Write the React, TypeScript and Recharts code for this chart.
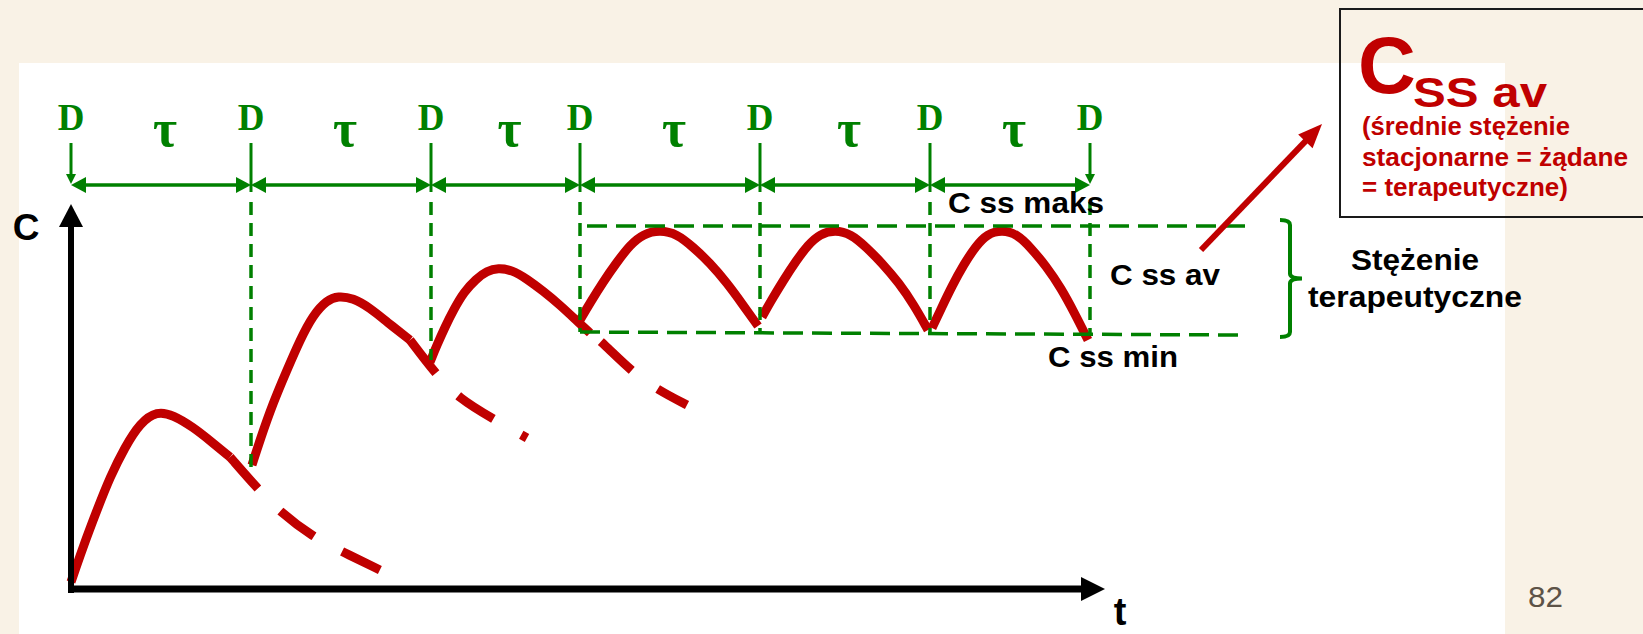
import React from 'react';
import { ComposedChart, Line, XAxis, YAxis, ReferenceLine, ReferenceDot } from 'recharts';

const RED = '#C00000';
const GREEN = '#008000';
const SANS = '"Liberation Sans", Arial, sans-serif';
const SERIF = '"Liberation Serif", "Times New Roman", serif';

type P = [number, number];

// Dosing times (D) on the time axis
const doseTimes = [0, 1.8, 3.6, 5.09, 6.89, 8.59, 10.19];
// Concentration where each dashed dose guide meets the curve (doses 2..7)
const guideBottoms = [1.22, 2.29, 2.57, 2.57, 2.55, 2.54];
const doseLabel = 'D';
const intervalLabel = 'τ';

// Steady-state band
const cssMax = 3.63;
const cssMinStart = 2.57;
const cssMinEnd = 2.54;
const bandStart = 5.09;
const bandEnd = 11.72;

// Level of the dosing-interval arrows and of the D / τ labels
const intervalLevel = 4.04;
const doseLabelLevel = 4.59;
const tauLabelLevel = 4.43;

// Concentration after each dose (solid) and the elimination without a further dose (dashed)
const dose1: P[] = [[0.0, 0.07], [0.12, 0.42], [0.26, 0.79], [0.39, 1.12], [0.54, 1.42], [0.69, 1.66], [0.86, 1.78], [1.02, 1.74], [1.22, 1.62], [1.42, 1.46], [1.59, 1.32]];
const washout1: P[] = [[1.59, 1.32], [1.86, 1.01], [2.09, 0.77], [2.42, 0.52], [2.72, 0.37], [3.09, 0.19]];
const dose2: P[] = [[1.81, 1.24], [1.89, 1.49], [2.02, 1.86], [2.16, 2.19], [2.29, 2.49], [2.42, 2.74], [2.56, 2.89], [2.67, 2.93], [2.82, 2.91], [2.99, 2.81], [3.16, 2.67], [3.39, 2.49]];
const washout2: P[] = [[3.39, 2.49], [3.64, 2.16], [3.87, 1.91], [4.24, 1.69], [4.56, 1.51]];
const dose3: P[] = [[3.59, 2.27], [3.66, 2.44], [3.74, 2.62], [3.83, 2.8], [3.93, 2.97], [4.05, 3.1], [4.16, 3.18], [4.27, 3.21], [4.41, 3.19], [4.56, 3.1], [4.72, 2.98], [4.89, 2.84], [5.07, 2.67], [5.19, 2.56]];
const washout3: P[] = [[5.19, 2.56], [5.31, 2.47], [5.61, 2.17], [5.87, 1.99], [6.16, 1.84]];
const dose4: P[] = [[5.09, 2.69], [5.19, 2.86], [5.32, 3.07], [5.46, 3.27], [5.59, 3.44], [5.72, 3.55], [5.89, 3.59], [6.06, 3.55], [6.22, 3.42], [6.39, 3.26], [6.56, 3.06], [6.72, 2.84], [6.87, 2.63]];
const dose5: P[] = [[6.91, 2.72], [7.0, 2.88], [7.12, 3.08], [7.25, 3.28], [7.37, 3.44], [7.49, 3.55], [7.64, 3.59], [7.8, 3.55], [7.95, 3.42], [8.11, 3.26], [8.28, 3.06], [8.43, 2.84], [8.57, 2.59]];
const dose6: P[] = [[8.61, 2.61], [8.7, 2.8], [8.81, 3.03], [8.93, 3.25], [9.05, 3.43], [9.16, 3.55], [9.31, 3.59], [9.46, 3.55], [9.6, 3.41], [9.75, 3.23], [9.9, 3.01], [10.04, 2.75], [10.17, 2.49]];

const solidCurves = [dose1, dose2, dose3, dose4, dose5, dose6];
const washouts = [washout1, washout2, washout3];
const washoutOffsets = [0, 0, 60];

const toRows = (pts: P[]) => pts.map(([t, c]) => ({ t, c }));

type ArrowOpts = { color: string; width: number; head: number; half: number; atStart?: boolean; atEnd?: boolean };

const arrowShape = (o: ArrowOpts) => (p: any) => {
  const { x1, y1, x2, y2 } = p;
  const len = Math.hypot(x2 - x1, y2 - y1) || 1;
  const ux = (x2 - x1) / len;
  const uy = (y2 - y1) / len;
  const tri = (tx: number, ty: number, dx: number, dy: number) => {
    const bx = tx - dx * o.head;
    const by = ty - dy * o.head;
    return `${tx},${ty} ${bx - dy * o.half},${by + dx * o.half} ${bx + dy * o.half},${by - dx * o.half}`;
  };
  const sx = o.atStart ? x1 + ux * o.head * 0.7 : x1;
  const sy = o.atStart ? y1 + uy * o.head * 0.7 : y1;
  const ex = o.atEnd ? x2 - ux * o.head * 0.7 : x2;
  const ey = o.atEnd ? y2 - uy * o.head * 0.7 : y2;
  return (
    <g>
      <line x1={sx} y1={sy} x2={ex} y2={ey} stroke={o.color} strokeWidth={o.width} />
      {o.atStart && <polygon points={tri(x1, y1, -ux, -uy)} fill={o.color} />}
      {o.atEnd && <polygon points={tri(x2, y2, ux, uy)} fill={o.color} />}
    </g>
  );
};

const braceShape = (p: any) => {
  const { x1, y1, y2 } = p;
  const ym = (y1 + y2) / 2;
  const r = 5;
  const d = `M${x1 - 10},${y1} Q${x1},${y1} ${x1},${y1 + r} L${x1},${ym - r} Q${x1},${ym} ${x1 + 12},${ym} Q${x1},${ym} ${x1},${ym + r} L${x1},${y2 - r} Q${x1},${y2} ${x1 - 10},${y2}`;
  return <path d={d} stroke={GREEN} strokeWidth={4} fill="none" />;
};

type TextOpts = { size: number; fill: string; family: string; weight?: string | number; anchor?: 'start' | 'middle' | 'end'; length?: number };

const textShape = (text: string, s: TextOpts) => (p: any) => (
  <text
    x={p.cx}
    y={p.cy}
    fontSize={s.size}
    fill={s.fill}
    fontFamily={s.family}
    fontWeight={s.weight ?? 'bold'}
    textAnchor={s.anchor ?? 'start'}
    {...(s.length ? { textLength: s.length, lengthAdjust: 'spacingAndGlyphs' } : {})}
  >
    {text}
  </text>
);

type Note = { x: number; y: number; text: string; opts: TextOpts };

const notes: Note[] = [
  { x: -0.45, y: 3.49, text: 'C', opts: { size: 37, fill: '#000', family: SANS, anchor: 'middle' } },
  { x: 10.49, y: -0.36, text: 't', opts: { size: 38, fill: '#000', family: SANS, anchor: 'middle' } },
  { x: 14.57, y: -0.18, text: '82', opts: { size: 29, fill: '#5d5347', family: SANS, weight: 'normal', length: 35 } },
  { x: 8.77, y: 3.76, text: 'C ss maks', opts: { size: 29, fill: '#000', family: SANS, length: 156 } },
  { x: 10.39, y: 3.04, text: 'C ss av', opts: { size: 29, fill: '#000', family: SANS, length: 110 } },
  { x: 9.77, y: 2.22, text: 'C ss min', opts: { size: 29, fill: '#000', family: SANS, length: 130 } },
  { x: 12.8, y: 3.19, text: 'Stężenie', opts: { size: 29, fill: '#000', family: SANS, length: 128 } },
  { x: 12.37, y: 2.82, text: 'terapeutyczne', opts: { size: 29, fill: '#000', family: SANS, length: 214 } },
  { x: 12.87, y: 4.96, text: 'C', opts: { size: 80, fill: RED, family: SANS } },
  { x: 13.42, y: 4.82, text: 'SS av', opts: { size: 42, fill: RED, family: SANS, length: 134 } },
  { x: 12.91, y: 4.54, text: '(średnie stężenie', opts: { size: 25, fill: RED, family: SANS, length: 208 } },
  { x: 12.91, y: 4.23, text: 'stacjonarne = żądane', opts: { size: 25, fill: RED, family: SANS, length: 266 } },
  { x: 12.91, y: 3.93, text: '= terapeutyczne)', opts: { size: 25, fill: RED, family: SANS, length: 206 } },
];

export default function App() {
  const W = 1643;
  const H = 634;
  const intervals = doseTimes.slice(0, -1).map((t, i) => [t, doseTimes[i + 1]]);
  return (
    <div style={{ position: 'absolute', left: 0, top: 0, width: W, height: H, overflow: 'hidden', background: '#F9F2E6' }}>
      <div style={{ position: 'absolute', left: 19, top: 63, width: 1486, height: 571, background: '#FFFFFF' }} />
      <div style={{ position: 'absolute', left: 1339, top: 8, width: 330, height: 206, border: '2px solid #1a1a1a' }} />
      <div style={{ position: 'absolute', left: 0, top: 0 }}>
        <ComposedChart width={W} height={H} margin={{ top: 0, right: 0, bottom: 0, left: 0 }}>
          <XAxis type="number" dataKey="t" domain={[-0.71, 15.72]} allowDataOverflow hide />
          <YAxis type="number" dataKey="c" domain={[-0.45, 5.89]} allowDataOverflow hide />

          {solidCurves.map((pts, i) => (
            <Line key={`dose-${i}`} data={toRows(pts)} dataKey="c" type="basis" stroke={RED} strokeWidth={9} dot={false} activeDot={false} isAnimationActive={false} />
          ))}
          {washouts.map((pts, i) => (
            <Line key={`washout-${i}`} data={toRows(pts)} dataKey="c" type="basis" stroke={RED} strokeWidth={9} strokeDasharray="42 32" strokeDashoffset={washoutOffsets[i]} dot={false} activeDot={false} isAnimationActive={false} />
          ))}

          {/* axes with arrowheads */}
          <ReferenceLine segment={[{ x: -0.03, y: 0 }, { x: 10.34, y: 0 }]} ifOverflow="visible" shape={arrowShape({ color: '#000', width: 7, head: 24, half: 12, atEnd: true })} />
          <ReferenceLine segment={[{ x: 0, y: -0.04 }, { x: 0, y: 3.85 }]} ifOverflow="visible" shape={arrowShape({ color: '#000', width: 6, head: 23, half: 12, atEnd: true })} />

          {/* dosing intervals */}
          {intervals.map(([a, b], i) => (
            <ReferenceLine key={`tau-${i}`} segment={[{ x: a, y: intervalLevel }, { x: b, y: intervalLevel }]} ifOverflow="visible" shape={arrowShape({ color: GREEN, width: 3.5, head: 15, half: 8, atStart: true, atEnd: true })} />
          ))}
          {doseTimes.map((t, i) => {
            const edge = i === 0 || i === doseTimes.length - 1;
            return (
              <ReferenceLine key={`stub-${i}`} segment={[{ x: t, y: 4.46 }, { x: t, y: edge ? intervalLevel + 0.01 : 3.97 }]} ifOverflow="visible" shape={arrowShape({ color: GREEN, width: 3, head: 10, half: 5, atEnd: edge })} />
            );
          })}
          {doseTimes.slice(1).map((t, i) => (
            <ReferenceLine key={`guide-${i}`} segment={[{ x: t, y: 3.87 }, { x: t, y: guideBottoms[i] }]} ifOverflow="visible" stroke={GREEN} strokeWidth={3.5} strokeDasharray="13 8" />
          ))}

          {/* steady-state band */}
          <ReferenceLine segment={[{ x: bandStart + 0.07, y: cssMax }, { x: bandEnd + 0.02, y: cssMax }]} ifOverflow="visible" stroke={GREEN} strokeWidth={3.5} strokeDasharray="20 9" />
          <ReferenceLine segment={[{ x: bandStart, y: cssMinStart }, { x: bandEnd - 0.03, y: cssMinEnd }]} ifOverflow="visible" stroke={GREEN} strokeWidth={3.5} strokeDasharray="20 9" />
          <ReferenceLine segment={[{ x: 12.19, y: 3.69 }, { x: 12.19, y: 2.52 }]} ifOverflow="visible" shape={braceShape} />

          {/* pointer to the definition box */}
          <ReferenceLine segment={[{ x: 11.3, y: 3.39 }, { x: 12.51, y: 4.65 }]} ifOverflow="visible" shape={arrowShape({ color: RED, width: 6, head: 24, half: 10, atEnd: true })} />

          {doseTimes.map((t, i) => (
            <ReferenceDot key={`D-${i}`} x={t} y={doseLabelLevel} r={0} ifOverflow="visible" shape={textShape(doseLabel, { size: 37, fill: GREEN, family: SERIF, anchor: 'middle' })} />
          ))}
          {intervals.map(([a, b], i) => (
            <ReferenceDot key={`tl-${i}`} x={(a + b) / 2 + 0.04} y={tauLabelLevel} r={0} ifOverflow="visible" shape={textShape(intervalLabel, { size: 52, fill: GREEN, family: SERIF, anchor: 'middle' })} />
          ))}
          {notes.map((n, i) => (
            <ReferenceDot key={`note-${i}`} x={n.x} y={n.y} r={0} ifOverflow="visible" shape={textShape(n.text, n.opts)} />
          ))}
        </ComposedChart>
      </div>
    </div>
  );
}
